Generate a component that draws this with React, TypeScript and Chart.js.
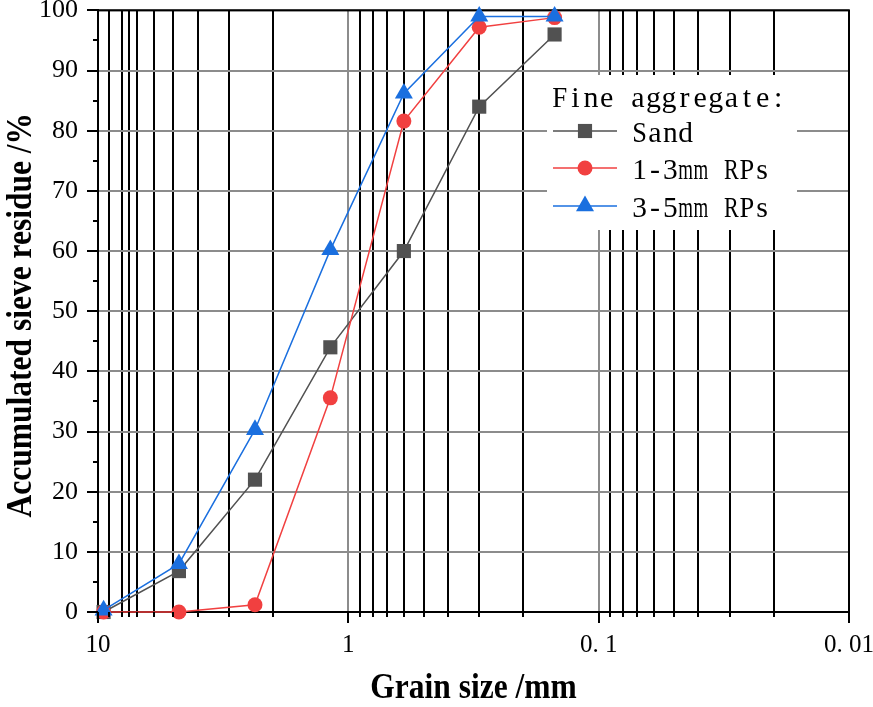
import React, { useEffect, useRef } from 'react';
import { Chart, registerables } from 'chart.js';

Chart.register(...registerables);

// ---- data ----
const sieveSizes = [9.5, 4.75, 2.36, 1.18, 0.6, 0.3, 0.15];
const sandResidue = [0, 6.8, 22, 44, 60, 84, 96];
const rp13Residue = [0, 0, 1.2, 35.6, 81.6, 97.2, 98.8];
const rp35Residue = [0.3, 8, 30.3, 60.2, 86.2, 99, 99];

const seriesNames = ['Sand', '1-3mm RPs', '3-5mm RPs'];
const seriesColors = ['#515151', '#F14040', '#1A6FDF'];
const legendTitle = 'Fine aggregate:';

const xMajorTicks = [10, 1, 0.1, 0.01];
const xMajorLabels = ['10', '1', '0. 1', '0. 01'];
const xMinorTicks = [9, 8, 7.5, 7, 6, 5, 4, 3, 2, 0.9, 0.8, 0.7, 0.6, 0.5, 0.4, 0.3, 0.2, 0.09, 0.08, 0.07, 0.06, 0.05, 0.04, 0.03, 0.02];
const yMajorTicks = [0, 10, 20, 30, 40, 50, 60, 70, 80, 90, 100];
const yMinorTicks = [5, 15, 25, 35, 45, 55, 65, 75, 85, 95];

const xTitle = 'Grain size /mm';
const yTitle = 'Accumulated sieve residue /%';

const SERIF = "'Liberation Serif', 'DejaVu Serif', serif";
const GRAY = '#8c8c8c';

const isMajorX = (v: number) => xMajorTicks.some((m) => Math.abs(m - v) < 1e-9);

function drawMono(ctx: CanvasRenderingContext2D, text: string, x0: number, y: number, adv: number) {
  ctx.textAlign = 'center';
  for (let i = 0; i < text.length; i++) {
    const ch = text[i];
    if (ch === ' ') continue;
    ctx.fillText(ch, x0 + i * adv + adv / 2, y, adv * 0.96);
  }
}

function drawMarker(ctx: CanvasRenderingContext2D, style: string, x: number, y: number, r: number, color: string) {
  ctx.fillStyle = color;
  ctx.beginPath();
  if (style === 'rect') {
    const s = Math.SQRT1_2 * r;
    ctx.rect(x - s, y - s, 2 * s, 2 * s);
  } else if (style === 'circle') {
    ctx.arc(x, y, r, 0, Math.PI * 2);
  } else {
    for (let k = 0; k < 3; k++) {
      const a = (k * 2 * Math.PI) / 3;
      const px = x + Math.sin(a) * r;
      const py = y - Math.cos(a) * r;
      if (k === 0) ctx.moveTo(px, py);
      else ctx.lineTo(px, py);
    }
    ctx.closePath();
  }
  ctx.fill();
}

const pointStyles = ['rect', 'circle', 'triangle'];
const pointRadii = [10, 7.5, 10.4];

const decorPlugin = {
  id: 'decor',
  beforeDatasetsDraw(chart: any) {
    const ctx = chart.ctx as CanvasRenderingContext2D;
    const { left, right, top, bottom } = chart.chartArea;
    ctx.save();
    ctx.strokeStyle = '#000';
    ctx.lineWidth = 2;
    ctx.strokeRect(left, top, right - left, bottom - top);
    ctx.restore();
  },
  afterDatasetsDraw(chart: any) {
    const ctx = chart.ctx as CanvasRenderingContext2D;
    const { left, right, top, bottom } = chart.chartArea;
    const xs = chart.scales.x;
    const ys = chart.scales.y;
    ctx.save();
    // tick marks
    ctx.strokeStyle = '#000';
    ctx.lineWidth = 2;
    [...xMajorTicks, ...xMinorTicks].forEach((v) => {
      const px = Math.round(xs.getPixelForValue(v));
      const len = isMajorX(v) ? 11 : 5;
      ctx.beginPath();
      ctx.moveTo(px, bottom);
      ctx.lineTo(px, bottom + len);
      ctx.stroke();
    });
    yMajorTicks.forEach((v) => {
      const py = Math.round(ys.getPixelForValue(v));
      ctx.beginPath();
      ctx.moveTo(left, py);
      ctx.lineTo(left - 11, py);
      ctx.stroke();
    });
    yMinorTicks.forEach((v) => {
      const py = Math.round(ys.getPixelForValue(v));
      ctx.beginPath();
      ctx.moveTo(left, py);
      ctx.lineTo(left - 5, py);
      ctx.stroke();
    });

    // legend
    ctx.fillStyle = '#fff';
    ctx.fillRect(547, 75, 250, 155);
    ctx.fillStyle = '#000';
    ctx.font = `30px ${SERIF}`;
    ctx.textBaseline = 'alphabetic';
    drawMono(ctx, legendTitle, 552, 107, 15.6);
    const rowY = [131, 168, 206];
    seriesNames.forEach((name, i) => {
      const y = rowY[i];
      ctx.strokeStyle = seriesColors[i];
      ctx.lineWidth = 1.5;
      ctx.beginPath();
      ctx.moveTo(553, y);
      ctx.lineTo(617, y);
      ctx.stroke();
      drawMarker(ctx, pointStyles[i], 585, y, pointRadii[i], seriesColors[i]);
      ctx.fillStyle = '#000';
      ctx.font = `30px ${SERIF}`;
      drawMono(ctx, name, 632, y + 11, 15.3);
    });

    // axis titles
    ctx.fillStyle = '#000';
    ctx.font = `bold 31.5px ${SERIF}`;
    ctx.textAlign = 'center';
    ctx.textBaseline = 'alphabetic';
    ctx.save();
    ctx.translate((left + right) / 2, 698);
    ctx.scale(1, 1.12);
    ctx.fillText(xTitle, 0, 0);
    ctx.restore();
    ctx.save();
    ctx.translate(31, (top + bottom) / 2 + 4);
    ctx.rotate(-Math.PI / 2);
    ctx.scale(1, 1.12);
    ctx.fillText(yTitle, 0, 0);
    ctx.restore();

    ctx.restore();
  },
};

export default function App() {
  const ref = useRef<HTMLCanvasElement>(null);

  useEffect(() => {
    document.body.style.margin = '0';
    const canvas = ref.current;
    if (!canvas) return;
    const seriesData = [sandResidue, rp13Residue, rp35Residue];
    const chart = new Chart(canvas, {
      type: 'line',
      data: {
        datasets: seriesNames.map((name, i) => ({
          label: name,
          data: sieveSizes.map((x, k) => ({ x, y: seriesData[i][k] })),
          borderColor: seriesColors[i],
          backgroundColor: seriesColors[i],
          pointBackgroundColor: seriesColors[i],
          pointBorderColor: seriesColors[i],
          pointBorderWidth: 0,
          pointStyle: pointStyles[i] as any,
          pointRadius: pointRadii[i],
          borderWidth: 1.5,
          tension: 0,
          order: 3 - i,
          clip: false as any,
        })),
      },
      options: {
        responsive: false,
        animation: false,
        devicePixelRatio: 1,
        layout: { padding: { top: 6, right: 24, left: 0, bottom: 0 } },
        plugins: { legend: { display: false }, tooltip: { enabled: false } },
        scales: {
          x: {
            type: 'logarithmic',
            reverse: true,
            min: 0.01,
            max: 10,
            afterBuildTicks: (s: any) => {
              s.ticks = [...xMajorTicks, ...xMinorTicks].map((v) => ({ value: v }));
            },
            afterFit: (s: any) => {
              s.height = 95;
              s.paddingLeft = 0;
              s.paddingRight = 0;
            },
            grid: {
              color: (c: any) => (c.tick && isMajorX(c.tick.value) ? GRAY : '#000'),
              lineWidth: 2,
              drawTicks: false,
            },
            border: { color: '#000', width: 2 },
            ticks: {
              autoSkip: false,
              maxRotation: 0,
              padding: 18,
              color: '#000',
              font: { family: SERIF, size: 25 },
              callback: (v: any) => {
                const idx = xMajorTicks.findIndex((m) => Math.abs(m - Number(v)) < 1e-9);
                return idx >= 0 ? xMajorLabels[idx] : '';
              },
            },
          },
          y: {
            type: 'linear',
            min: 0,
            max: 100,
            afterBuildTicks: (s: any) => {
              s.ticks = yMajorTicks.map((v) => ({ value: v }));
            },
            afterFit: (s: any) => {
              s.width = 98;
              s.paddingTop = 0;
              s.paddingBottom = 0;
            },
            grid: { color: GRAY, lineWidth: 2, drawTicks: false },
            border: { color: '#000', width: 2 },
            ticks: {
              padding: 20,
              color: '#000',
              font: { family: SERIF, size: 26 },
            },
          },
        },
      },
      plugins: [decorPlugin],
    } as any);
    let alive = true;
    const fontSpecs = ["25px 'Liberation Serif'", "30px 'Liberation Serif'", "bold 31.5px 'Liberation Serif'"];
    Promise.all(fontSpecs.map((f) => (document as any).fonts.load(f)))
      .catch(() => null)
      .then(() => {
        if (alive) chart.update();
      });
    return () => {
      alive = false;
      chart.destroy();
    };
  }, []);

  return <canvas ref={ref} width={873} height={707} style={{ display: 'block' }} />;
}
